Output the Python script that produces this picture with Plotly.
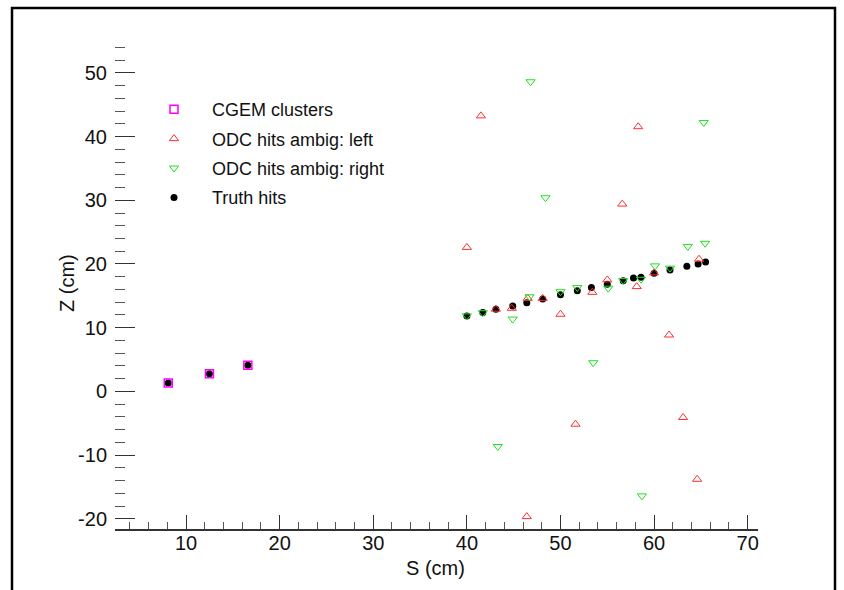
import plotly.graph_objects as go

# ---- data (S in cm, Z in cm) ----
cgem_s = [8.1, 12.5, 16.6]
cgem_z = [1.3, 2.75, 4.1]

left_s = [40.0, 41.5, 43.1, 44.8, 46.4, 46.5, 48.1, 50.0, 51.6, 53.4,
          55.0, 56.6, 58.15, 58.3, 60.0, 61.6, 63.1, 64.6, 64.8]
left_z = [22.6, 43.25, 12.9, 13.05, -19.65, 14.6, 14.6, 12.1, -5.15, 15.55,
          17.5, 29.4, 16.45, 41.55, 18.6, 8.85, -4.1, -13.8, 20.75]

right_s = [40.0, 41.7, 43.3, 44.9, 46.7, 46.8, 48.4, 50.0, 51.8, 53.5,
           55.1, 56.7, 58.6, 58.7, 60.1, 61.7, 63.6, 65.3, 65.45]
right_z = [11.85, 12.35, -8.65, 11.35, 14.85, 48.6, 30.4, 15.65, 16.3, 4.5,
           16.2, 17.4, 17.6, -16.4, 19.7, 19.35, 22.75, 42.2, 23.25]

truth_s = [8.1, 12.5, 16.6,
           40.0, 41.7, 43.1, 44.9, 46.4, 48.1, 50.0, 51.8, 53.3, 55.0,
           56.7, 57.8, 58.6, 60.0, 61.7, 63.5, 64.7, 65.5]
truth_z = [1.3, 2.75, 4.1,
           11.85, 12.37, 12.9, 13.4, 13.9, 14.5, 15.15, 15.8, 16.3, 16.8,
           17.35, 17.8, 17.9, 18.55, 19.05, 19.65, 20.0, 20.3]

x_ticks = [10, 20, 30, 40, 50, 60, 70]
y_ticks = [-20, -10, 0, 10, 20, 30, 40, 50]
y_tick_labels = ["-20", "-10", "0", "10", "20", "30", "40", "50"]

FONT = "Liberation Sans, Arial, Helvetica, sans-serif"

fig = go.Figure()

fig.add_trace(go.Scatter(
    x=truth_s, y=truth_z, mode="markers", name="Truth hits",
    legendrank=4, legendgroup="d",
    marker=dict(symbol="circle", size=7, color="black", line=dict(width=0))))
fig.add_trace(go.Scatter(
    x=cgem_s, y=cgem_z, mode="markers", name="CGEM clusters",
    legendrank=1, legendgroup="a",
    marker=dict(symbol="square-open", size=8, color="#ff00ff", line=dict(width=1.5))))
fig.add_trace(go.Scatter(
    x=left_s, y=left_z, mode="markers", name="ODC hits ambig: left",
    legendrank=2, legendgroup="b",
    marker=dict(symbol="triangle-up-open", size=8, color="#ff3030", line=dict(width=1))))
fig.add_trace(go.Scatter(
    x=right_s, y=right_z, mode="markers", name="ODC hits ambig: right",
    legendrank=3, legendgroup="c",
    marker=dict(symbol="triangle-down-open", size=8, color="#20e020", line=dict(width=1))))

fig.update_layout(
    width=844, height=590,
    margin=dict(l=115, r=86, t=41, b=61),
    paper_bgcolor="white", plot_bgcolor="white",
    font=dict(family=FONT, color="#111", size=20),
    showlegend=True,
    legend=dict(
        x=(136 - 115) / 643, y=(529 - 91) / 488, xanchor="left", yanchor="top",
        bgcolor="rgba(0,0,0,0)", borderwidth=0,
        font=dict(family=FONT, size=18, color="#111"),
        tracegroupgap=3, itemsizing="trace", itemwidth=66,
    ),
    xaxis=dict(
        range=[2.41, 71.1], tickvals=x_ticks, showgrid=False, zeroline=False,
        showline=True, linecolor="#333", linewidth=1.5,
        ticks="inside", ticklen=14, tickwidth=1, tickcolor="#333",
        minor=dict(ticks="inside", ticklen=7, dtick=2, tickwidth=1, tickcolor="#555", showgrid=False),
        tickfont=dict(family=FONT, size=20, color="#111"),
        ticklabelstandoff=-5,
    ),
    yaxis=dict(
        range=[-21.6, 55.0], tickvals=y_ticks, ticktext=y_tick_labels,
        showgrid=False, zeroline=False, showline=False,
        ticks="inside", ticklen=20, tickwidth=1, tickcolor="#333",
        minor=dict(ticks="inside", ticklen=10, dtick=2, tickwidth=1, tickcolor="#555", showgrid=False),
        tickfont=dict(family=FONT, size=20, color="#111"),
        ticklabelstandoff=7,
    ),
    annotations=[
        dict(text="S (cm)", xref="paper", yref="paper", x=(435 - 115) / 643, y=(529 - 568) / 488,
             xanchor="center", yanchor="middle", showarrow=False,
             font=dict(family=FONT, size=20, color="#111")),
        dict(text="Z (cm)", xref="paper", yref="paper", x=(67 - 115) / 643, y=(529 - 283) / 488,
             xanchor="center", yanchor="middle", showarrow=False, textangle=-90,
             font=dict(family=FONT, size=20, color="#111")),
    ],
    shapes=[
        dict(type="rect", xref="paper", yref="paper",
             x0=(12 - 115) / 643, x1=(835 - 115) / 643,
             y0=(529 - 600) / 488, y1=(529 - 8) / 488,
             line=dict(color="black", width=2.5), layer="above"),
    ],
)

fig.write_html("out.html")
